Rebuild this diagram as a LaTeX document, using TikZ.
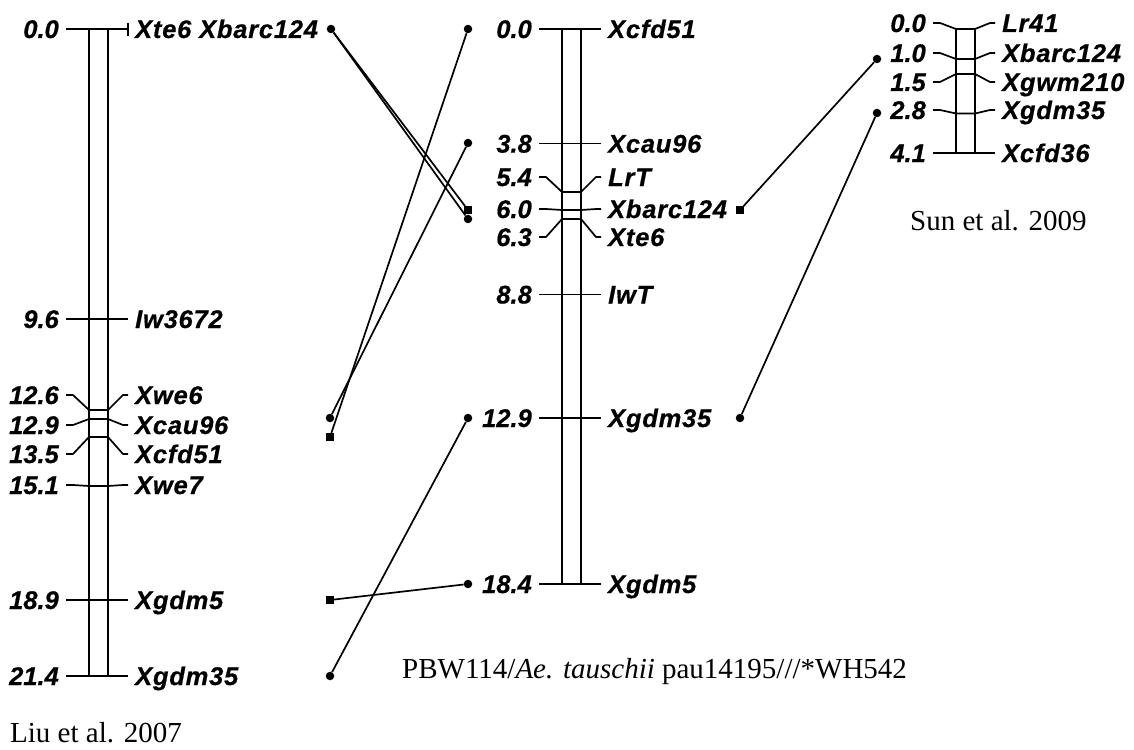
\documentclass[tikz,border=0pt]{standalone}
\usepackage{fontspec}
\setmainfont{Liberation Serif}
\newfontfamily\numfont{Liberation Sans}[BoldItalicFeatures={FakeBold=0.6}]
\newfontfamily\namfont{Liberation Sans}[LetterSpace=3,BoldItalicFeatures={FakeBold=0.6}]
\begin{document}
\begin{tikzpicture}[x=1pt,y=-1pt,
  num/.style={font=\numfont\fontsize{25.5}{30}\selectfont\bfseries\itshape, inner sep=0pt, anchor=base east},
  nam/.style={font=\namfont\fontsize{25.5}{30}\selectfont\bfseries\itshape, inner sep=0pt, anchor=base west},
  captxt/.style={font=\fontsize{29}{34}\selectfont, inner sep=0pt, anchor=base west},
  chrom/.style={line width=1.8pt},
  tk/.style={line width=1.7pt, line join=round},
  con/.style={line width=1.7pt},
  dot/.style={circle, fill=black, inner sep=0pt, minimum size=8.5pt},
  sq/.style={rectangle, fill=black, inner sep=0pt, minimum size=7.5pt}]
\useasboundingbox (0,0) rectangle (1134,749);
% #1 id, #2 L, #3 R, #4 y on chromosome, #5 y of label, #6 number, #7 name
\newcommand\mk[7]{%
  \node[num] (n#1) at (#2-30,#5+9) {#6};
  \node[nam] (m#1) at (#3+27,#5+9) {#7};
  \draw[tk] (#2-23,#5) -- (#2-16,#5) -- (#2,#4) -- (#3,#4) -- (#3+15,#5) -- (#3+20,#5);
}
% ---------------- Left chromosome (Liu et al. 2007)
\draw[chrom] (89,29) rectangle (108,676);
\mk{a1}{89}{108}{29}{29}{0.0}{Xte6 Xbarc124}
\draw[tk] (128,23) -- (128,36);
\mk{a2}{89}{108}{319}{319}{9.6}{Iw3672}
\mk{a3}{89}{108}{410}{395}{12.6}{Xwe6}
\mk{a4}{89}{108}{419}{425}{12.9}{Xcau96}
\mk{a5}{89}{108}{437}{454}{13.5}{Xcfd51}
\mk{a6}{89}{108}{486}{485}{15.1}{Xwe7}
\mk{a7}{89}{108}{600}{600}{18.9}{Xgdm5}
\mk{a8}{89}{108}{676}{676}{21.4}{Xgdm35}
% ---------------- Middle chromosome
\draw[chrom] (562,29) rectangle (581,584);
\mk{b1}{562}{581}{29}{29}{0.0}{Xcfd51}
\mk{b2}{562}{581}{143.6}{143.6}{3.8}{Xcau96}
\mk{b3}{562}{581}{192}{177}{5.4}{LrT}
\mk{b4}{562}{581}{210}{209}{6.0}{Xbarc124}
\mk{b5}{562}{581}{219}{237}{6.3}{Xte6}
\mk{b6}{562}{581}{294.5}{294.5}{8.8}{IwT}
\mk{b7}{562}{581}{418}{418}{12.9}{Xgdm35}
\mk{b8}{562}{581}{584}{584}{18.4}{Xgdm5}
% ---------------- Right chromosome (Sun et al. 2009)
\draw[chrom] (956,29) rectangle (975,153);
\mk{c1}{956}{975}{29}{23}{0.0}{Lr41}
\mk{c2}{956}{975}{59}{53}{1.0}{Xbarc124}
\mk{c3}{956}{975}{74}{82}{1.5}{Xgwm210}
\mk{c4}{956}{975}{113.5}{110}{2.8}{Xgdm35}
\mk{c5}{956}{975}{153}{153}{4.1}{Xcfd36}
% ---------------- Connector end points
\node[dot] (pL0) at (331,29) {};
\node[dot] (pLcau) at (330,418) {};
\node[sq]  (pLcfd) at (330,437) {};
\node[sq]  (pLgdm5) at (330,600) {};
\node[dot] (pLgdm35) at (330,676) {};
\node[dot] (pMcfd) at (468,29) {};
\node[dot] (pMcau) at (468,143) {};
\node[sq]  (pMbarc) at (468,210) {};
\node[dot] (pMte) at (468,219) {};
\node[dot] (pMgdm35) at (468,418) {};
\node[dot] (pMgdm5) at (468,584) {};
\node[sq]  (qMbarc) at (740,210) {};
\node[dot] (qMgdm35) at (740,418) {};
\node[dot] (qRbarc) at (877,59) {};
\node[dot] (qRgdm35) at (877,113) {};
% ---------------- Connectors
\draw[con] (pL0) -- (pMbarc);
\draw[con] (pL0) -- (pMte);
\draw[con] (pMcfd) -- (pLcfd);
\draw[con] (pMcau) -- (pLcau);
\draw[con] (pMgdm35) -- (pLgdm35);
\draw[con] (pMgdm5) -- (pLgdm5);
\draw[con] (qMbarc) -- (qRbarc);
\draw[con] (qMgdm35) -- (qRgdm35);
% ---------------- Captions
\node[captxt] (liu) at (10,742) {Liu et al. 2007};
\node[captxt] (sun) at (910,230) {Sun et al. 2009};
\node[captxt] (pbw) at (402,678) {PBW114/\textit{Ae. tauschii} pau14195///*WH542};
\end{tikzpicture}
\end{document}
